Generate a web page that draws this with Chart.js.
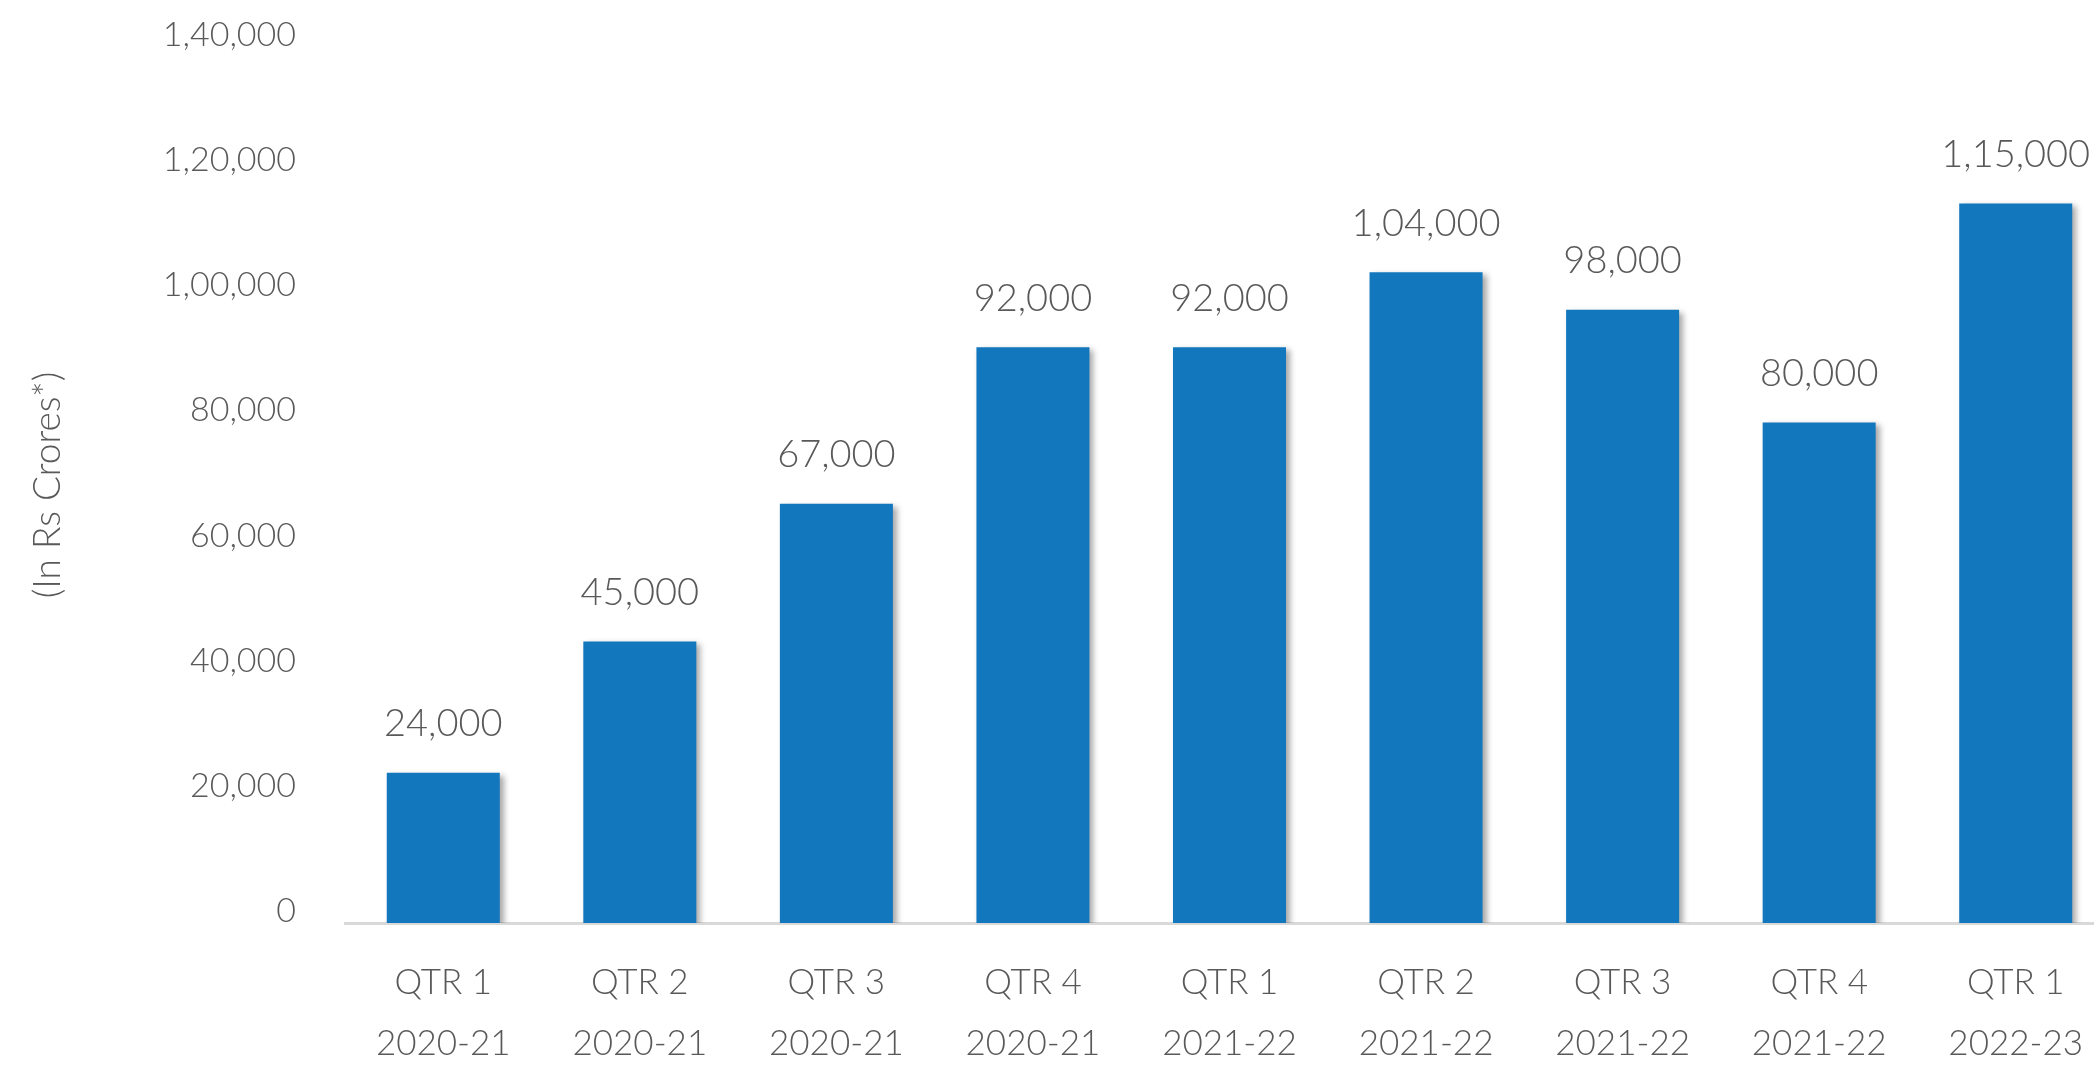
<!DOCTYPE html>
<html>
<head>
<meta charset="utf-8">
<script src="https://cdn.jsdelivr.net/npm/chart.js@4.4.1/dist/chart.umd.min.js"></script>
<style>
  html, body { margin: 0; padding: 0; background: #ffffff; overflow: hidden; }
  #wrap { position: relative; width: 2114px; height: 1069px; }
</style>
</head>
<body>
<div id="wrap"><canvas id="c" width="2114" height="1069"></canvas></div>
<script>
const quarters = ['QTR 1','QTR 2','QTR 3','QTR 4','QTR 1','QTR 2','QTR 3','QTR 4','QTR 1'];
const years = ['2020-21','2020-21','2020-21','2020-21','2021-22','2021-22','2021-22','2021-22','2022-23'];
const values = [24000, 45000, 67000, 92000, 92000, 104000, 98000, 80000, 115000];
const yTicks = [0, 20000, 40000, 60000, 80000, 100000, 120000, 140000];
const yTitle = '(In Rs Crores*)';

function inr(n) {
  const s = String(Math.round(n));
  if (s.length <= 3) return s;
  const last3 = s.slice(-3);
  let rest = s.slice(0, -3);
  const parts = [];
  while (rest.length > 2) { parts.unshift(rest.slice(-2)); rest = rest.slice(0, -2); }
  if (rest.length) parts.unshift(rest);
  return parts.join(',') + ',' + last3;
}

const FONT = 'Lato, "Open Sans", sans-serif';
const TEXT = '#595959';

const shadowPlugin = {
  id: 'barShadow',
  beforeDatasetsDraw(chart) {
    const ctx = chart.ctx;
    ctx.save();
    ctx.shadowColor = 'rgba(0,0,0,0.35)';
    ctx.shadowBlur = 6;
    ctx.shadowOffsetX = 4;
    ctx.shadowOffsetY = 3;
  },
  afterDatasetsDraw(chart) { chart.ctx.restore(); }
};

const labelPlugin = {
  id: 'barLabels',
  afterDatasetsDraw(chart) {
    const ctx = chart.ctx;
    const meta = chart.getDatasetMeta(0);
    const data = chart.data.datasets[0].data;
    ctx.save();
    ctx.font = '300 38px ' + FONT;
    ctx.fillStyle = TEXT;
    ctx.textAlign = 'center';
    ctx.textBaseline = 'middle';
    meta.data.forEach((bar, i) => {
      ctx.fillText(inr(data[i]), bar.x, bar.y - 49);
    });
    ctx.restore();
  }
};

new Chart(document.getElementById('c'), {
  type: 'bar',
  data: {
    labels: quarters.map((q, i) => [q, years[i]]),
    datasets: [{
      data: values,
      backgroundColor: '#1377BD',
      borderWidth: 0,
      categoryPercentage: 0.575,
      barPercentage: 1.0
    }]
  },
  options: {
    responsive: false,
    animation: false,
    devicePixelRatio: 1,
    layout: { padding: { top: 47, right: 0, bottom: 0, left: 0 } },
    plugins: { legend: { display: false }, tooltip: { enabled: false } },
    scales: {
      x: {
        grid: { display: false, drawTicks: false },
        border: { display: true, color: '#D9D9D9', width: 3 },
        ticks: {
          color: TEXT,
          font: { family: FONT, size: 35, weight: 300, lineHeight: 1.75 },
          padding: 29,
          maxRotation: 0,
          autoSkip: false
        },
        afterFit(scale) { scale.height = 146; }
      },
      y: {
        min: 0,
        max: 140000,
        afterBuildTicks(scale) { scale.ticks = yTicks.map(v => ({ value: v })); },
        grid: { display: false, drawTicks: false },
        border: { display: false },
        ticks: {
          color: TEXT,
          font: { family: FONT, size: 34, weight: 300 },
          padding: 49,
          labelOffset: -12,
          callback: (v) => inr(v)
        },
        title: {
          display: true,
          text: yTitle,
          color: TEXT,
          font: { family: FONT, size: 37, weight: 300 },
          padding: { top: 26, bottom: 0 }
        },
        afterFit(scale) {
          scale.width = 345;
          scale.paddingTop = 0;
          scale.paddingBottom = 0;
        }
      }
    }
  },
  plugins: [shadowPlugin, labelPlugin]
});
</script>
</body>
</html>
